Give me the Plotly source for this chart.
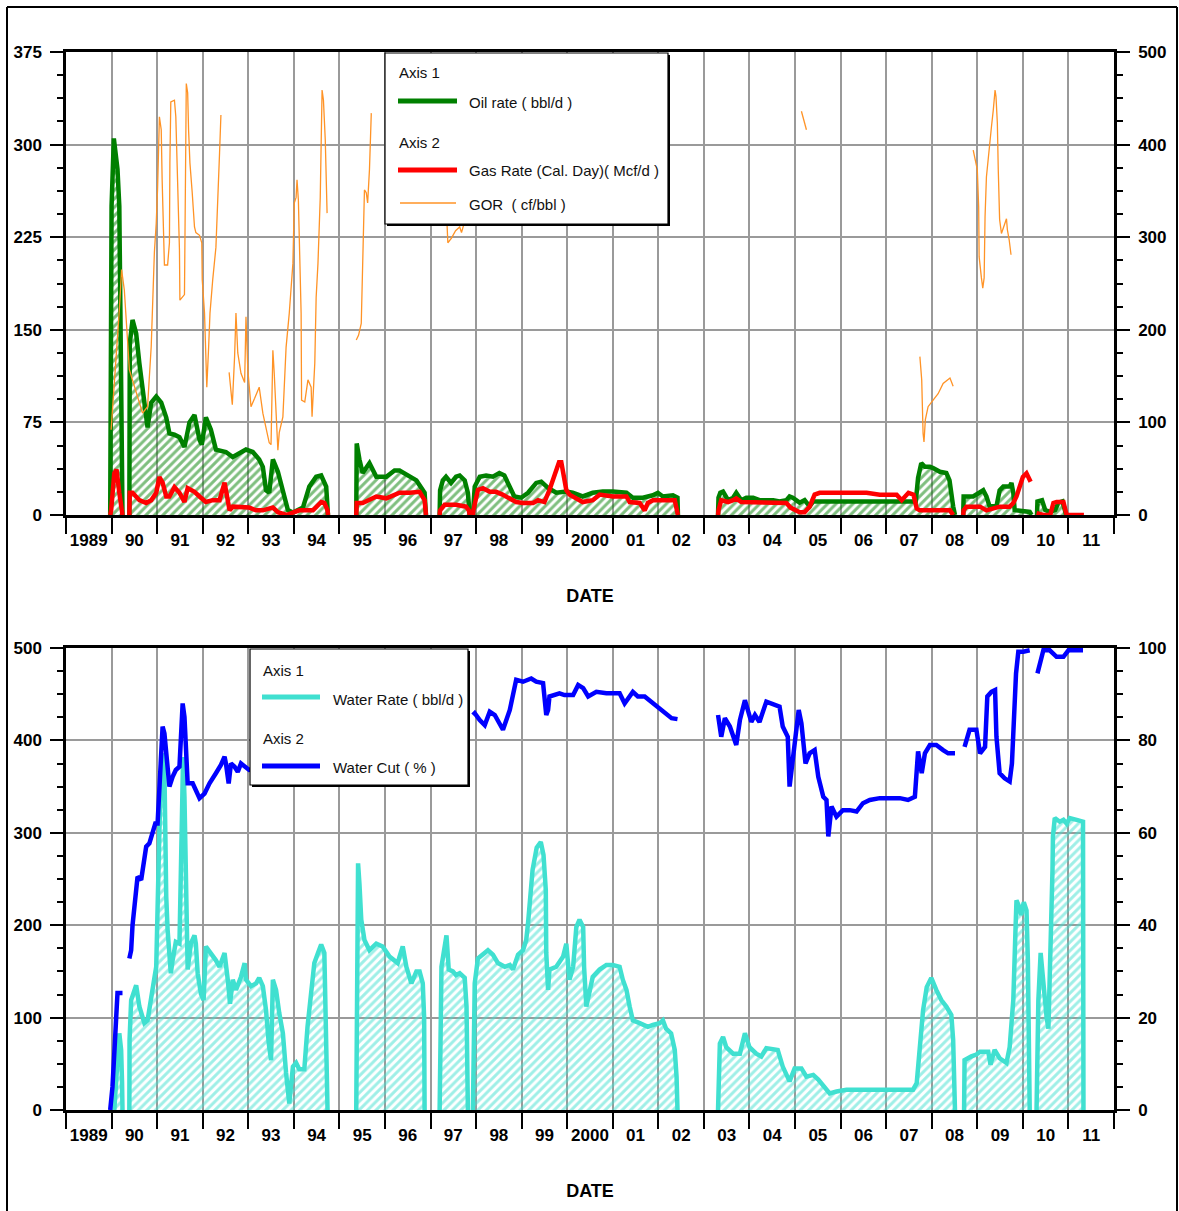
import plotly.graph_objects as go

# ---------------------------------------------------------------- data
year_labels = ["1989", "90", "91", "92", "93", "94", "95", "96", "97", "98", "99",
               "2000", "01", "02", "03", "04", "05", "06", "07", "08", "09", "10", "11"]
top_left_ticks = [0, 75, 150, 225, 300, 375]
top_right_ticks = [0, 100, 200, 300, 400, 500]
bot_left_ticks = [0, 100, 200, 300, 400, 500]
bot_right_ticks = [0, 20, 40, 60, 80, 100]

oil_year = [1989.97, 1989.98, 1990.00, 1990.05, 1990.09, 1990.13, 1990.17, 1990.19, 1990.22, 1990.24, None,
            1990.39, 1990.40, 1990.46, 1990.54, 1990.61, 1990.68, 1990.76, 1990.79, 1990.87, 1990.98,
            1991.09, 1991.20, 1991.27, 1991.38, 1991.49, 1991.60, 1991.71, 1991.82, 1991.93, 1991.98,
            1992.07, 1992.18, 1992.29, 1992.51, 1992.66, 1992.81, 1992.95, 1993.10, 1993.24, 1993.32,
            1993.39, 1993.46, 1993.54, 1993.65, 1993.76, 1993.87, 1993.98, 1994.20, 1994.34, 1994.49,
            1994.60, 1994.71, 1994.75, None,
            1995.37, 1995.38, 1995.44, 1995.51, 1995.66, 1995.81, 1996.03, 1996.21, 1996.32, 1996.69,
            1996.87, 1996.90, None,
            1997.20, 1997.21, 1997.27, 1997.34, 1997.45, 1997.56, 1997.64, 1997.75, 1997.82, 1997.86, None,
            1997.93, 1997.97, 1998.08, 1998.22, 1998.37, 1998.51, 1998.62, 1998.73, 1998.84, 1998.99,
            1999.14, 1999.32, 1999.43, 1999.58, 1999.76, 1999.98, 2000.12, 2000.34, 2000.56, 2000.78,
            2001.00, 2001.30, 2001.44, 2001.66, 2001.88, 2001.99, 2002.10, 2002.32, 2002.42, 2002.43, None,
            2003.31, 2003.32, 2003.36, 2003.42, 2003.53, 2003.64, 2003.71, 2003.82, 2003.93, 2004.08,
            2004.22, 2004.52, 2004.66, 2004.81, 2004.88, 2004.95, 2005.10, 2005.21, 2005.32, 2005.40,
            2006.00, 2006.60, 2007.20, 2007.65, 2007.70, 2007.77, 2007.85, 2007.96, 2008.03, 2008.18,
            2008.32, 2008.39, 2008.47, 2008.51, None,
            2008.69, 2008.70, 2008.91, 2009.06, 2009.13, 2009.20, 2009.27, 2009.42, 2009.49, 2009.57,
            2009.71, 2009.75, 2009.79, 2009.82, 2010.15, 2010.19, None,
            2010.31, 2010.32, 2010.42, 2010.49, 2010.60, 2010.71, 2010.78, 2010.87, 2010.95]
oil_rate = [0, 110, 250, 305, 295, 280, 250, 180, 110, 0, None,
            0, 139, 158, 147, 123, 101, 77, 71, 91, 96,
            91, 79, 66, 65, 63, 55, 75, 81, 61, 57,
            79, 69, 53, 51, 47, 50, 53, 51, 45, 39,
            20, 18, 45, 35, 18, 4, 2, 6, 23, 31,
            32, 23, 0, None,
            0, 58, 45, 34, 42, 31, 31, 36, 36, 28,
            18, 0, None,
            0, 20, 28, 31, 26, 31, 32, 28, 18, 0, None,
            0, 23, 31, 32, 31, 34, 32, 23, 15, 14,
            18, 26, 27, 22, 18, 19, 18, 15, 18, 19,
            19, 18, 14, 14, 16, 18, 15, 16, 14, 0, None,
            0, 14, 18, 19, 12, 14, 18, 12, 14, 14,
            12, 12, 11, 12, 15, 14, 10, 12, 7, 11,
            11, 11, 11, 11, 30, 42, 39, 39, 38, 35,
            34, 28, 7, 0, None,
            0, 15, 15, 19, 20, 15, 7, 7, 20, 23,
            23, 26, 18, 4, 2.5, 0, None,
            0, 11, 12, 4, 2.5, 4, 10, 11, 0]

gas_year = [1989.97, 1989.99, 1990.06, 1990.11, 1990.17, 1990.21, 1990.24, None,
            1990.39, 1990.40, 1990.46, 1990.54, 1990.61, 1990.76, 1990.87, 1990.98, 1991.05, 1991.12,
            1991.20, 1991.27, 1991.38, 1991.49, 1991.60, 1991.67, 1991.82, 1991.93, 1992.07, 1992.22,
            1992.37, 1992.48, 1992.55, 1992.59, 1992.66, 1992.88, 1993.02, 1993.17, 1993.32, 1993.54,
            1993.65, 1993.83, 1994.12, 1994.42, 1994.60, 1994.67, 1994.74, 1994.75, None,
            1995.37, 1995.38, 1995.51, 1995.66, 1995.81, 1996.03, 1996.21, 1996.32, 1996.54, 1996.76,
            1996.87, 1996.90, None,
            1997.20, 1997.21, 1997.31, 1997.56, 1997.78, 1997.84, 1997.86, None,
            1997.93, 1997.94, 1998.04, 1998.15, 1998.30, 1998.44, 1998.58, 1998.73, 1998.88, 1999.03,
            1999.25, 1999.36, 1999.50, 1999.61, 1999.72, 1999.82, 1999.87, 1999.91, 1999.98, 2000.05,
            2000.20, 2000.34, 2000.56, 2000.71, 2001.00, 2001.30, 2001.37, 2001.59, 2001.70, 2001.77,
            2001.88, 2002.17, 2002.36, 2002.43, None,
            2003.31, 2003.32, 2003.38, 2003.53, 2003.64, 2003.71, 2003.82, 2004.00, 2004.22, 2004.52,
            2004.70, 2004.81, 2004.90, 2005.10, 2005.21, 2005.32, 2005.43, 2005.54, 2006.13, 2006.57,
            2006.86, 2007.23, 2007.34, 2007.49, 2007.60, 2007.67, 2007.74, 2008.40, 2008.47, None,
            2008.69, 2008.70, 2008.76, 2009.06, 2009.20, 2009.49, 2009.71, 2009.79, 2009.86, 2009.93,
            2010.00, 2010.08, 2010.14, 2010.17, None,
            2010.30, 2010.45, 2010.60, 2010.67, 2010.74, 2010.89, 2010.96, 2011.34]
gas_rate = [0, 5, 45, 49, 24, 5, 0, None,
            0, 24, 24, 20, 16, 13, 16, 24, 41, 35,
            20, 20, 30, 24, 14, 29, 25, 20, 14, 16,
            16, 35, 14, 5, 9, 8, 8, 5, 5, 8,
            3, 0, 5, 5, 14, 13, 5, 0, None,
            0, 13, 13, 16, 20, 18, 22, 24, 24, 25,
            16, 0, None,
            0, 5, 11, 11, 9, 5, 0, None,
            0, 5, 27, 29, 25, 25, 22, 18, 14, 13,
            13, 16, 14, 27, 41, 57, 57, 45, 27, 22,
            18, 14, 16, 22, 20, 20, 14, 13, 5, 13,
            16, 16, 16, 0, None,
            0, 5, 16, 14, 16, 18, 14, 14, 13, 13,
            14, 13, 8, 3, 3, 9, 22, 24, 24, 24,
            22, 22, 16, 24, 22, 7, 5, 5, 0, None,
            0, 5, 9, 9, 5, 9, 9, 13, 20, 30,
            41, 45, 38, 36, None,
            2, 0, 0, 13, 14, 14, 0, 0]

gor_year = [1989.99, 1990.06, 1990.11, 1990.17, 1990.22, 1990.28, 1990.35, 1990.39, 1990.68, 1990.79,
            1990.87, 1990.94, 1990.98, 1991.01, 1991.05, 1991.09, 1991.11, 1991.14, 1991.16, 1991.23,
            1991.27, 1991.28, 1991.30, 1991.38, 1991.41, 1991.45, 1991.49, 1991.50, 1991.60, 1991.64,
            1991.67, 1991.69, 1991.72, 1991.77, 1991.82, 1991.85, 1991.93, 1991.98, 1991.99, 1992.04,
            1992.07, 1992.09, 1992.13, 1992.16, 1992.22, 1992.29, 1992.37, 1992.40, None,
            1992.58, 1992.65, 1992.70, 1992.73, 1992.77, 1992.84, 1992.92, 1992.95, 1992.99, 1993.06,
            1993.14, 1993.24, 1993.32, 1993.39, 1993.46, 1993.50, 1993.54, 1993.57, 1993.65, 1993.68,
            1993.76, 1993.83, 1993.90, 1993.98, 1994.01, 1994.05, 1994.07, 1994.10, 1994.12, 1994.16,
            1994.17, 1994.24, 1994.31, 1994.38, 1994.40, 1994.46, 1994.49, 1994.53, 1994.58, 1994.62,
            1994.65, 1994.69, 1994.73, None,
            1995.37, 1995.42, 1995.48, 1995.51, 1995.55, 1995.59, 1995.62, 1995.66, 1995.70, None,
            1997.34, 1997.36, 1997.38, 1997.46, 1997.55, 1997.64, 1997.68, 1997.72, 1997.77, None,
            2005.14, 2005.25, None,
            2007.74, 2007.78, 2007.81, 2007.83, 2007.86, 2007.92, 2008.03, 2008.14, 2008.25, 2008.40,
            2008.47, None,
            2008.91, 2008.97, 2009.00, 2009.03, 2009.04, 2009.09, 2009.12, 2009.15, 2009.17, 2009.20,
            2009.26, 2009.31, 2009.35, 2009.39, 2009.41, 2009.44, 2009.46, 2009.49, 2009.53, 2009.58,
            2009.64, 2009.66, 2009.70, 2009.74]
gor_val = [92, 139, 175, 221, 265, 243, 189, 157, 110, 117,
           182, 284, 315, 353, 430, 416, 362, 308, 270, 270,
           294, 380, 446, 448, 430, 359, 286, 232, 238, 466,
           456, 416, 380, 348, 311, 305, 302, 294, 254, 218,
           181, 138, 181, 218, 254, 289, 391, 432, None,
           154, 119, 171, 218, 175, 153, 143, 214, 157, 117,
           126, 138, 110, 92, 78, 76, 178, 153, 70, 89,
           106, 181, 218, 272, 337, 343, 362, 340, 308, 218,
           124, 122, 146, 138, 106, 164, 235, 272, 343, 459,
           448, 405, 326, None,
           189, 194, 207, 279, 351, 348, 337, 373, 434, None,
           340, 312, 294, 299, 307, 311, 305, 312, 340, None,
           436, 416, None,
           171, 146, 88, 79, 103, 117, 124, 131, 142, 148,
           139, None,
           394, 380, 373, 333, 279, 256, 245, 256, 322, 365,
           398, 419, 437, 459, 452, 423, 373, 319, 304, 311,
           320, 308, 297, 281]

water_year = [1990.06, 1990.10, 1990.13, 1990.17, 1990.21, 1990.23, 1990.24, None,
              1990.39, 1990.395, 1990.43, 1990.54, 1990.61, 1990.72, 1990.79, 1990.87, 1990.94, 1990.98,
              1991.01, 1991.05, 1991.09, 1991.12, 1991.16, 1991.17, 1991.20, 1991.23, 1991.27, 1991.30,
              1991.34, 1991.41, 1991.49, 1991.52, 1991.54, 1991.57, 1991.60, 1991.63, 1991.65, 1991.67,
              1991.74, 1991.82, 1991.85, 1991.89, 1991.96, 1992.02, 1992.07, 1992.18, 1992.29, 1992.37,
              1992.48, 1992.55, 1992.60, 1992.66, 1992.73, 1992.84, 1992.92, 1992.95, 1993.06, 1993.17,
              1993.24, 1993.32, 1993.39, 1993.45, 1993.50, 1993.54, 1993.61, 1993.68, 1993.76, 1993.83,
              1993.90, 1993.98, 1994.05, 1994.12, 1994.23, 1994.30, 1994.38, 1994.45, 1994.53, 1994.60,
              1994.67, 1994.71, 1994.74, None,
              1995.37, 1995.39, 1995.41, 1995.44, 1995.48, 1995.55, 1995.66, 1995.81, 1995.95, 1996.10,
              1996.28, 1996.32, 1996.39, 1996.47, 1996.58, 1996.69, 1996.76, 1996.83, 1996.86, 1996.87, None,
              1997.20, 1997.24, 1997.35, 1997.40, 1997.49, 1997.56, 1997.64, 1997.75, 1997.79, 1997.82, None,
              1997.93, 1997.97, 1998.04, 1998.15, 1998.26, 1998.37, 1998.48, 1998.63, 1998.74, 1998.81,
              1998.92, 1999.03, 1999.10, 1999.14, 1999.17, 1999.24, 1999.33, 1999.42, 1999.48, 1999.53,
              1999.54, 1999.58, 1999.61, 1999.76, 1999.91, 1999.98, 2000.05, 2000.13, 2000.20, 2000.27,
              2000.35, 2000.37, 2000.42, 2000.49, 2000.56, 2000.71, 2000.86, 2001.00, 2001.15, 2001.22,
              2001.30, 2001.37, 2001.44, 2001.59, 2001.77, 2001.88, 2002.03, 2002.10, 2002.17, 2002.28,
              2002.36, 2002.40, 2002.42, None,
              2003.31, 2003.35, 2003.42, 2003.49, 2003.64, 2003.79, 2003.90, 2004.00, 2004.15, 2004.26,
              2004.37, 2004.62, 2004.73, 2004.88, 2004.99, 2005.14, 2005.25, 2005.40, 2005.51, 2005.65,
              2005.76, 2005.91, 2006.13, 2006.86, 2007.59, 2007.67, 2007.74, 2007.81, 2007.89, 2007.99,
              2008.10, 2008.21, 2008.32, 2008.43, 2008.47, 2008.51, None,
              2008.71, 2008.72, 2008.87, 2008.98, 2009.06, 2009.24, 2009.29, 2009.38, 2009.49, 2009.64,
              2009.71, 2009.79, 2009.84, 2009.86, 2009.91, 2009.96, 2010.02, 2010.08, 2010.11, 2010.14,
              2010.15, None,
              2010.30, 2010.34, 2010.39, 2010.45, 2010.52, 2010.56, 2010.59, 2010.63, 2010.65, 2010.66,
              2010.70, 2010.81, 2010.89, 2010.96, 2011.03, 2011.18, 2011.32, 2011.33]
water_rate = [0, 40, 54, 83, 65, 30, 0, None,
              0, 76, 119, 135, 112, 94, 97, 126, 143, 155,
              249, 303, 368, 386, 368, 303, 231, 195, 155, 148,
              162, 182, 180, 267, 339, 382, 339, 238, 195, 152,
              180, 189, 180, 148, 126, 119, 177, 170, 162, 155,
              170, 141, 115, 141, 130, 144, 159, 141, 134, 137,
              143, 134, 108, 72, 54, 141, 130, 105, 83, 40,
              7, 47, 51, 44, 44, 90, 134, 159, 170, 179,
              170, 90, 0, None,
              0, 227, 267, 245, 206, 184, 173, 180, 177, 166,
              159, 166, 177, 155, 137, 150, 150, 137, 100, 0, None,
              0, 155, 189, 152, 150, 146, 148, 143, 112, 0, None,
              0, 137, 164, 168, 173, 168, 159, 155, 157, 152,
              168, 173, 184, 202, 224, 260, 284, 290, 276, 238,
              170, 130, 152, 155, 166, 180, 141, 155, 198, 206,
              198, 155, 112, 126, 144, 152, 157, 157, 155, 141,
              130, 112, 97, 94, 90, 92, 94, 97, 88, 83,
              65, 36, 0, None,
              0, 72, 79, 68, 61, 61, 83, 68, 61, 58,
              67, 65, 47, 31, 45, 45, 36, 38, 33, 25,
              18, 20, 22, 22, 22, 29, 65, 108, 133, 143,
              130, 119, 112, 103, 76, 0, None,
              0, 54, 58, 60, 63, 63, 49, 65, 56, 51,
              68, 119, 198, 227, 221, 211, 225, 216, 162, 54,
              0, None,
              0, 119, 170, 133, 101, 88, 137, 191, 260, 296,
              316, 312, 314, 310, 316, 314, 312, 0]

wcut_year = [1989.97, 1990.02, 1990.06, 1990.10, 1990.13, 1990.24, None,
             1990.39, 1990.43, 1990.46, 1990.50, 1990.54, 1990.57, 1990.65, 1990.70, 1990.76, 1990.83,
             1990.91, 1990.96, 1991.01, 1991.05, 1991.09, 1991.12, 1991.16, 1991.20, 1991.23, 1991.27,
             1991.34, 1991.41, 1991.49, 1991.52, 1991.56, 1991.60, 1991.63, 1991.67, 1991.78, 1991.85,
             1991.93, 1992.04, 1992.15, 1992.29, 1992.40, 1992.48, 1992.51, 1992.57, 1992.62, 1992.70,
             1992.77, 1992.84, 1992.95, 1993.02, 1993.30, 1993.60, 1993.90, 1994.30, 1994.74, None,
             1995.37, 1995.70, 1996.20, 1996.70, 1996.90, None,
             1997.20, 1997.50, 1997.80, None,
             1997.93, 1997.97, 1998.08, 1998.19, 1998.30, 1998.41, 1998.59, 1998.74, 1998.88, 1999.03,
             1999.21, 1999.32, 1999.47, 1999.54, 1999.58, 1999.61, 1999.83, 1999.94, 2000.13, 2000.24,
             2000.35, 2000.46, 2000.64, 2000.86, 2001.15, 2001.26, 2001.44, 2001.55, 2001.70, 2001.92,
             2002.14, 2002.29, 2002.42, None,
             2003.31, 2003.38, 2003.46, 2003.57, 2003.71, 2003.79, 2003.90, 2004.04, 2004.12, 2004.22,
             2004.37, 2004.52, 2004.66, 2004.73, 2004.84, 2004.88, 2004.95, 2005.03, 2005.08, 2005.14,
             2005.23, 2005.32, 2005.43, 2005.51, 2005.62, 2005.69, 2005.73, 2005.80, 2005.91, 2006.05,
             2006.20, 2006.35, 2006.49, 2006.64, 2006.86, 2007.30, 2007.48, 2007.63, 2007.70, 2007.78,
             2007.85, 2007.96, 2008.10, 2008.25, 2008.36, 2008.51, None,
             2008.72, 2008.83, 2008.98, 2009.06, 2009.17, 2009.22, 2009.31, 2009.39, 2009.42, 2009.49,
             2009.60, 2009.71, 2009.76, 2009.80, 2009.85, 2009.90, 2010.01, 2010.15, None,
             2010.32, 2010.37, 2010.45, 2010.59, 2010.74, 2010.89, 2011.00, 2011.32]
wcut_val = [0, 5, 12.3, 20.2, 25.3, 25.3, None,
            32.8, 34.6, 40, 44, 48.3, 50.5, 49.8, 54, 57, 57.7,
            60.2, 62, 62, 69.3, 77.2, 83, 81.5, 76.5, 72.1, 70,
            72.1, 73.6, 74.3, 82.3, 88, 85.1, 76.5, 70.7, 70.7, 69.3,
            67.5, 68.5, 70.7, 72.9, 74.7, 76.5, 75, 70.7, 75, 74.3,
            73.2, 75, 74.3, 73.6, 74, 72, 76, 78, 80, None,
            78, 80, 81, 82, 82, None,
            83, 84, 85, None,
            85.5, 85.9, 84.4, 83.3, 86.2, 85.5, 82.3, 86.6, 93.1, 92.7,
            93.4, 92.7, 92.4, 85.5, 86.6, 89.5, 90.2, 89.8, 89.8, 92,
            91.3, 89.5, 90.5, 90.2, 90.2, 88, 90.5, 89.5, 89.5, 87.7,
            86.2, 84.8, 84.6, None,
            85.5, 80.8, 84.8, 83, 79, 84.4, 88.7, 84, 85.5, 84,
            88.4, 87.7, 87.3, 83, 80.8, 70, 76.5, 82.3, 86.6, 83.7,
            75, 77.2, 77.9, 72.1, 67.8, 67.1, 59.2, 65.7, 63.5, 64.9,
            64.9, 64.6, 66.4, 67.1, 67.5, 67.5, 67.1, 67.8, 77.6, 72.9,
            77.2, 79, 79, 77.9, 77.2, 77.2, None,
            78.6, 82.3, 82.3, 77.2, 78.6, 89.5, 90.5, 90.9, 80.8, 72.9,
            71.8, 71.1, 75, 83, 94.5, 99.2, 99.2, 99.5, None,
            94.5, 96.7, 99.5, 99.5, 98.1, 98.1, 99.5, 99.5]

for a, b in [(oil_year, oil_rate), (gas_year, gas_rate), (gor_year, gor_val),
             (water_year, water_rate), (wcut_year, wcut_val)]:
    assert len(a) == len(b), (len(a), len(b))

# ---------------------------------------------------------------- geometry / style
W, H = 1179, 1211
ML, MR, MT, MB = 66, 65, 52, 101
PW, PH = W - ML - MR, H - MT - MB


def fx(px):
    return (px - ML) / PW


def fy(py):
    return (H - MB - py) / PH


GREEN, RED, ORANGE = "#008000", "#ff0000", "#ff9326"
CYAN, BLUE = "#40e0d0", "#0000ff"
GRID = "#9a9a9a"
NARROW = "Liberation Sans Narrow, Arial Narrow, Liberation Sans, Arial, sans-serif"
tickfont = dict(family=NARROW, size=17, color="black", weight="bold")
legfont = dict(family=NARROW, size=15, color="#111111")
HATCH = dict(shape="/", bgcolor="rgba(0,0,0,0)", size=6, solidity=0.5)

fig = go.Figure()
fig.add_trace(go.Scatter(
    x=oil_year, y=oil_rate, xaxis="x", yaxis="y", mode="lines", name="Oil rate ( bbl/d )",
    line=dict(color=GREEN, width=4.5), fill="tozeroy",
    fillpattern=dict(HATCH, fgcolor=GREEN),
    showlegend=False, hoverinfo="skip"))
fig.add_trace(go.Scatter(
    x=gas_year, y=gas_rate, xaxis="x", yaxis="y2", mode="lines", name="Gas Rate (Cal. Day)( Mcf/d )",
    line=dict(color=RED, width=4.5), showlegend=False, hoverinfo="skip"))
fig.add_trace(go.Scatter(
    x=gor_year, y=gor_val, xaxis="x", yaxis="y2", mode="lines", name="GOR  ( cf/bbl )",
    line=dict(color=ORANGE, width=1.3), showlegend=False, hoverinfo="skip"))
fig.add_trace(go.Scatter(
    x=water_year, y=water_rate, xaxis="x2", yaxis="y3", mode="lines", name="Water Rate ( bbl/d )",
    line=dict(color=CYAN, width=4.5), fill="tozeroy",
    fillpattern=dict(HATCH, fgcolor=CYAN),
    showlegend=False, hoverinfo="skip"))
fig.add_trace(go.Scatter(
    x=wcut_year, y=wcut_val, xaxis="x2", yaxis="y4", mode="lines", name="Water Cut ( % )",
    line=dict(color=BLUE, width=4.5), showlegend=False, hoverinfo="skip"))


def label_axis(anchor):
    return dict(
        anchor=anchor, domain=[0, 1], range=[1989, 2012], tickmode="array",
        tickvals=[y + 0.5 for y in range(1989, 2012)], ticktext=year_labels,
        ticks="", showgrid=False, zeroline=False, tickfont=tickfont, ticklabelstandoff=8,
        showline=True, linecolor="black", linewidth=3, mirror=True,
        minor=dict(tickmode="array", tickvals=list(range(1989, 2013)), ticks="outside",
                   ticklen=16, tickwidth=1.5, tickcolor="black", showgrid=True,
                   gridcolor=GRID, gridwidth=1.5),
        title=dict(text="DATE", font=dict(family=NARROW, size=18, color="black", weight="bold"),
                   standoff=40),
        automargin=False, fixedrange=True)


def month_axis(overlay, anchor):
    return dict(overlaying=overlay, anchor=anchor, range=[1989, 2012], tickmode="linear",
                tick0=1989, dtick=1 / 12, ticks="outside", ticklen=5, tickwidth=1,
                tickcolor="black", showticklabels=False, showgrid=False, zeroline=False,
                showline=False, fixedrange=True)


def y_axis(rng, tick_list, minor_dtick, side, anchor, domain=None, overlay=None):
    d = dict(range=rng, tickmode="array", tickvals=tick_list, ticktext=[str(t) for t in tick_list],
             ticks="outside", ticklen=13, tickwidth=1.5, tickcolor="black",
             minor=dict(tickmode="linear", tick0=0, dtick=minor_dtick, ticks="outside", ticklen=6,
                        tickwidth=1.5, tickcolor="black", showgrid=False),
             showgrid=overlay is None, gridcolor=GRID, gridwidth=1.5, zeroline=False,
             showline=True, linecolor="black", linewidth=2.5, tickfont=tickfont,
             ticklabelstandoff=5, side=side, anchor=anchor, automargin=False, fixedrange=True)
    if overlay:
        d["overlaying"] = overlay
    else:
        d["domain"] = domain
    return d


top_dom = [fy(515), fy(52)]
bot_dom = [fy(1110), fy(648)]

shapes = []
annotations = []


def legend_box(x0, y0, x1, y1):
    shapes.append(dict(type="rect", xref="paper", yref="paper", layer="above",
                       x0=fx(x0 + 2), x1=fx(x1 + 2), y0=fy(y0 + 2), y1=fy(y1 + 2),
                       fillcolor="black", line=dict(width=0)))
    shapes.append(dict(type="rect", xref="paper", yref="paper", layer="above",
                       x0=fx(x0), x1=fx(x1), y0=fy(y0), y1=fy(y1),
                       fillcolor="white", line=dict(color="black", width=1.2)))


def legend_line(x0, x1, y, color, width):
    shapes.append(dict(type="line", xref="paper", yref="paper", layer="above",
                       x0=fx(x0), x1=fx(x1), y0=fy(y), y1=fy(y),
                       line=dict(color=color, width=width)))


def legend_text(x, y, text):
    annotations.append(dict(xref="paper", yref="paper", x=fx(x), y=fy(y), text=text,
                            xanchor="left", yanchor="middle", showarrow=False, font=legfont))


# top legend
legend_box(385, 53, 668, 224)
legend_text(397, 73, "Axis 1")
legend_line(398, 457, 101, GREEN, 5)
legend_text(467, 102, "Oil rate ( bbl/d )")
legend_text(397, 142, "Axis 2")
legend_line(398, 457, 170, RED, 5)
legend_text(467, 171, "Gas Rate (Cal. Day)( Mcf/d )")
legend_line(400, 456, 203, ORANGE, 1.5)
legend_text(467, 204, "GOR&nbsp; ( cf/bbl )")

# bottom legend
legend_box(250, 649, 468, 785)
legend_text(261, 670, "Axis 1")
legend_line(262, 320, 697, CYAN, 5)
legend_text(331, 699, "Water Rate ( bbl/d )")
legend_text(261, 738, "Axis 2")
legend_line(262, 320, 766, BLUE, 5)
legend_text(331, 767, "Water Cut ( % )")

# outer frame
for (x0, y0, x1, y1) in [(7, 7, 1177, 7), (7, 7, 7, 1230), (1177, 7, 1177, 1230)]:
    shapes.append(dict(type="line", xref="paper", yref="paper", layer="above",
                       x0=fx(x0), x1=fx(x1), y0=fy(y0), y1=fy(y1),
                       line=dict(color="black", width=2)))

fig.update_layout(
    width=W, height=H, margin=dict(l=ML, r=MR, t=MT, b=MB),
    paper_bgcolor="white", plot_bgcolor="white", showlegend=False, hovermode=False,
    xaxis=label_axis("y"),
    xaxis2=label_axis("y3"),
    xaxis3=month_axis("x", "y"),
    xaxis4=month_axis("x2", "y3"),
    yaxis=y_axis([0, 375], top_left_ticks, 18.75, "left", "x", domain=top_dom),
    yaxis2=y_axis([0, 500], top_right_ticks, 25, "right", "x", overlay="y"),
    yaxis3=y_axis([0, 500], bot_left_ticks, 25, "left", "x2", domain=bot_dom),
    yaxis4=y_axis([0, 100], bot_right_ticks, 5, "right", "x2", overlay="y3"),
    shapes=shapes, annotations=annotations,
)

fig.write_html("out.html", config={"displayModeBar": False},
               post_script="document.body.style.margin='0px';document.body.style.overflow='hidden';")
